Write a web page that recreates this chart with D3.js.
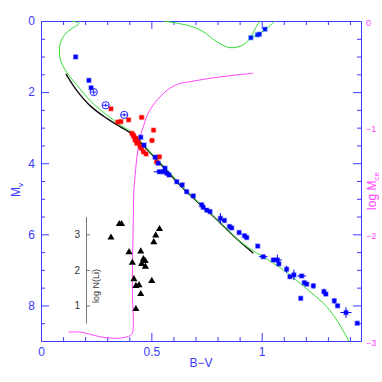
<!DOCTYPE html>
<html lang="en">
<head>
<meta charset="UTF-8">
<title>Colour-magnitude diagram</title>
<script src="https://d3js.org/d3.v7.min.js"></script>
<style>
  body { margin: 0; background: #fff; }
  svg { display: block; font-family: "Liberation Sans", Arial, sans-serif; }
  .axis path, .axis line { stroke: #3b3bff; }
  .axis text { fill: #3b3bff; font-size: 12px; }
  .raxis text { fill: #ff44ff; font-size: 9px; }
  .inset path, .inset line { stroke: #777; }
  .inset text { fill: #333; font-size: 10px; }
</style>
</head>
<body>
<svg width="382" height="382"></svg>
<script>
// ---- data: [B-V, Mv, err(B-V), err(Mv)] ----
const blueStars = [
  [0.157,1.01,0.006,0.05],[0.217,1.67,0.006,0.05],[0.227,1.88,0.008,0.06],
  [0.452,3.27,0.008,0.06],[0.467,3.49,0.008,0.06],[0.517,3.83,0.008,0.06],
  [0.531,4.00,0.008,0.06],[0.536,4.24,0.025,0.06],[0.554,4.24,0.008,0.06],
  [0.562,4.14,0.008,0.05],[0.570,4.28,0.008,0.06],[0.580,4.33,0.008,0.06],
  [0.615,4.52,0.008,0.06],[0.640,4.61,0.008,0.06],[0.660,4.80,0.008,0.06],
  [0.690,4.92,0.008,0.06],[0.728,5.17,0.008,0.06],[0.735,5.24,0.008,0.06],
  [0.751,5.32,0.008,0.06],[0.766,5.36,0.008,0.06],[0.813,5.55,0.006,0.15],
  [0.831,5.61,0.008,0.06],[0.854,5.78,0.008,0.06],[0.864,5.82,0.008,0.06],
  [0.898,5.95,0.008,0.06],[0.922,6.04,0.008,0.06],[0.932,6.09,0.008,0.06],
  [0.982,6.33,0.006,0.06],[1.007,6.63,0.020,0.04],[1.053,6.72,0.008,0.06],
  [1.071,6.72,0.020,0.15],[1.078,6.83,0.008,0.06],[1.113,6.98,0.006,0.10],
  [1.128,7.19,0.006,0.06],[1.146,7.14,0.006,0.15],[1.181,7.17,0.020,0.05],
  [1.193,7.36,0.008,0.06],[1.204,7.40,0.008,0.06],[1.234,7.45,0.008,0.08],
  [1.177,7.80,0.006,0.05],[1.282,7.61,0.008,0.08],[1.291,7.68,0.008,0.06],
  [1.329,7.87,0.006,0.08],[1.344,8.01,0.008,0.06],[1.382,8.20,0.025,0.15],
  [1.433,8.50,0.006,0.04]
];
const blueCircled = [[0.239,2.00,0.012,0.08],[0.293,2.37,0.014,0.05],[0.377,2.64,0.016,0.05]];
const giantStars = [[0.951,0.47,0.006,0.04],[0.981,0.39,0.006,0.04],[0.990,0.37,0.006,0.04],[1.015,0.23,0.006,0.04]];
const redStars = [
  [0.317,2.47,0.008,0.05],[0.349,2.84,0.015,0.05],[0.362,2.83,0.010,0.05],
  [0.397,2.78,0.008,0.05],[0.456,2.71,0.012,0.05],[0.510,3.07,0.008,0.06],
  [0.503,3.36,0.012,0.06],[0.412,3.16,0.010,0.06],[0.418,3.21,0.010,0.06],
  [0.421,3.25,0.010,0.06],[0.426,3.35,0.010,0.06],[0.431,3.30,0.010,0.06],
  [0.434,3.44,0.010,0.06],[0.441,3.41,0.010,0.06],[0.449,3.53,0.010,0.06],
  [0.455,3.58,0.010,0.06],[0.464,3.68,0.010,0.06],[0.476,3.74,0.010,0.06],
  [0.536,3.82,0.012,0.06],[0.524,3.96,0.010,0.06]
];
// lithium abundances: [B-V, log N(Li)]
const liStars = [
  [0.317,2.91],[0.355,3.29],[0.365,3.29],[0.399,2.50],[0.414,2.20],[0.452,2.52],
  [0.464,2.30],[0.472,2.25],[0.456,2.17],[0.473,2.09],[0.421,1.74],[0.430,1.55],
  [0.444,1.57],[0.502,1.69],[0.452,1.32],[0.430,0.90],[0.537,3.15],[0.520,2.97],
  [0.511,2.78]
];
// isochrones [B-V, Mv]
const isoGreen = [
  [0.139,0.00],[0.172,0.07],[0.140,0.21],[0.109,0.37],[0.091,0.56],[0.083,0.82],
  [0.088,1.10],[0.104,1.32],[0.116,1.44],[0.177,1.91],[0.237,2.33],[0.313,2.71],
  [0.373,2.98],[0.411,3.12],[0.494,3.68],[0.584,4.27],[0.645,4.70],[0.766,5.40],
  [0.894,6.16],[0.956,6.44],[1.007,6.63],[1.098,7.00],[1.219,7.61],[1.294,8.03],
  [1.340,8.41],[1.367,8.69],[1.392,8.97],[1.396,9.05]
];
const isoGreenGiantA = [
  [0.554,0.00],[0.675,0.14],[0.735,0.30],[0.796,0.58],[0.856,0.75],[0.917,0.67],
  [0.947,0.48],[0.970,0.22],[0.992,0.00]
];
const isoGreenGiantB = [[0.947,0.48],[0.985,0.37],[1.023,0.21],[1.060,0.00]];
const isoBlack = [
  [0.113,1.49],[0.159,1.93],[0.222,2.38],[0.298,2.74],[0.358,2.97],[0.403,3.14],
  [0.494,3.70],[0.645,4.71],[0.766,5.41],[0.893,6.16],[0.962,6.53]
];
// convective envelope mass [B-V, log Mce]
const mceCurve = [
  [0.124,-2.918],[0.177,-2.916],[0.267,-2.960],[0.328,-2.975],[0.373,-2.969],
  [0.403,-2.950],[0.414,-2.928],[0.414,-2.522],[0.415,-2.210],[0.418,-1.897],
  [0.421,-1.584],[0.426,-1.460],[0.433,-1.303],[0.442,-1.178],[0.451,-1.069],
  [0.464,-0.991],[0.476,-0.909],[0.494,-0.834],[0.517,-0.764],[0.539,-0.712],
  [0.584,-0.630],[0.630,-0.586],[0.675,-0.569],[0.766,-0.537],[0.856,-0.513],
  [0.962,-0.490]
];
// ticks
const xMajor = [0, 0.5, 1];
const xMinor = [0.1,0.2,0.3,0.4,0.6,0.7,0.8,0.9,1.1,1.2,1.3,1.4];
const yMajor = [0, 2, 4, 6, 8];
const yMinor = [0.5,1,1.5,2.5,3,3.5,4.5,5,5.5,6.5,7,7.5,8.5];
const rightLabels = [0, -1, -2, -3];
const liTicks = [1, 2, 3];

const svg = d3.select("svg");
const L = 41, R = 361, T = 21, B = 341;
const x = d3.scaleLinear([0, 1.45], [L, R]);
const y = d3.scaleLinear([0, 9], [T, B]);
const yR = d3.scaleLinear([0, -3], [T, B]);
const yLi = d3.scaleLinear([0.5, 3.5], [y(8.5), y(5.5)]);

svg.append("clipPath").attr("id", "plot")
  .append("rect").attr("x", L).attr("y", T).attr("width", R - L).attr("height", B - T);

// axes
function axisPair(gen, scale, major, minor, tx, ty, labels) {
  const g = svg.append("g").attr("class", "axis").attr("transform", `translate(${tx},${ty})`);
  g.call(gen(scale).tickValues(minor).tickSize(-4).tickFormat(""));
  g.selectAll(".domain").remove();
  const g2 = svg.append("g").attr("class", "axis").attr("transform", `translate(${tx},${ty})`);
  g2.call(gen(scale).tickValues(major).tickSize(-8).tickSizeOuter(0).tickPadding(6)
    .tickFormat(labels ? d3.format("") : ""));
  return g2;
}
axisPair(d3.axisBottom, x, xMajor, xMinor, 0, B, true);
axisPair(d3.axisTop, x, xMajor, xMinor, 0, T, false);
axisPair(d3.axisLeft, y, yMajor, yMinor, L, 0, true);
axisPair(d3.axisRight, y, yMajor, yMinor, R, 0, false);

const ra = svg.append("g").attr("class", "raxis").attr("transform", `translate(${R},0)`)
  .call(d3.axisRight(yR).tickValues(rightLabels).tickSize(0).tickPadding(5).tickFormat(d3.format("")));
ra.select(".domain").remove();
ra.selectAll("text").attr("dy", "0.45em");

// axis titles
svg.append("text").attr("x", 201).attr("y", 367).attr("text-anchor", "middle")
  .attr("fill", "#3b3bff").attr("font-size", 12).text("B\u2212V");
const mv = svg.append("text").attr("transform", "translate(20,190) rotate(-90)")
  .attr("text-anchor", "middle").attr("fill", "#3b3bff").attr("font-size", 12);
mv.append("tspan").text("M");
mv.append("tspan").attr("font-size", 8).attr("dy", "0.35em").text("v");
const lm = svg.append("text").attr("transform", "translate(376,191) rotate(-90)")
  .attr("text-anchor", "middle").attr("fill", "#ff44ff").attr("font-size", 12);
lm.append("tspan").text("log M");
lm.append("tspan").attr("font-size", 8).attr("dy", "0.35em").text("ce");

// curves
const plot = svg.append("g").attr("clip-path", "url(#plot)");
const line = d3.line().x(d => x(d[0])).y(d => y(d[1])).curve(d3.curveCatmullRom);
plot.append("path").datum(isoBlack).attr("d", line)
  .attr("fill", "none").attr("stroke", "#111").attr("stroke-width", 1.4);
[isoGreen, isoGreenGiantA, isoGreenGiantB].forEach(c => {
  plot.append("path").datum(c).attr("d", line)
    .attr("fill", "none").attr("stroke", "#33dd33").attr("stroke-width", 1);
});
plot.append("path").datum(mceCurve)
  .attr("d", d3.line().x(d => x(d[0])).y(d => yR(d[1])).curve(d3.curveCatmullRom))
  .attr("fill", "none").attr("stroke", "#ff44ff").attr("stroke-width", 1);

// inset lithium axis
const ia = svg.append("g").attr("class", "inset").attr("transform", `translate(86,0)`)
  .call(d3.axisLeft(yLi).tickValues(liTicks).tickSize(-4).tickSizeOuter(0).tickPadding(6).tickFormat(d3.format("")));
svg.append("text").attr("transform", `translate(99,${yLi(1.55)}) rotate(-90)`)
  .attr("text-anchor", "middle").attr("fill", "#333").attr("font-size", 9).text("log N(Li)");

svg.append("g").selectAll("path").data(liStars).join("path")
  .attr("transform", d => `translate(${x(d[0])},${yLi(d[1])})`)
  .attr("d", d3.symbol(d3.symbolTriangle, 22))
  .attr("fill", "#000");

// stars with error bars
function stars(data, color, halo, circled) {
  const g = svg.append("g");
  const s = g.selectAll("g").data(data).join("g");
  s.append("line").attr("x1", d => x(d[0] - d[2])).attr("x2", d => x(d[0] + d[2]))
    .attr("y1", d => y(d[1])).attr("y2", d => y(d[1])).attr("stroke", color);
  s.append("line").attr("x1", d => x(d[0])).attr("x2", d => x(d[0]))
    .attr("y1", d => y(d[1] - d[3])).attr("y2", d => y(d[1] + d[3])).attr("stroke", color);
  if (circled) {
    s.append("circle").attr("cx", d => x(d[0])).attr("cy", d => y(d[1])).attr("r", 3.6)
      .attr("fill", "none").attr("stroke", color).attr("stroke-width", 1);
  } else {
    s.append("rect").attr("x", d => x(d[0]) - 2).attr("y", d => y(d[1]) - 2)
      .attr("width", 4).attr("height", 4)
      .attr("fill", color).attr("stroke", halo).attr("stroke-width", 1.5);
  }
}
stars(redStars, "#ff0000", "rgba(255,0,0,0.35)", false);
stars(blueStars, "#0000ff", "rgba(0,0,255,0.35)", false);
stars(blueCircled, "#2222ff", null, true);
stars(giantStars, "#0000ff", "rgba(0,100,255,0.4)", false);
</script>
</body>
</html>
